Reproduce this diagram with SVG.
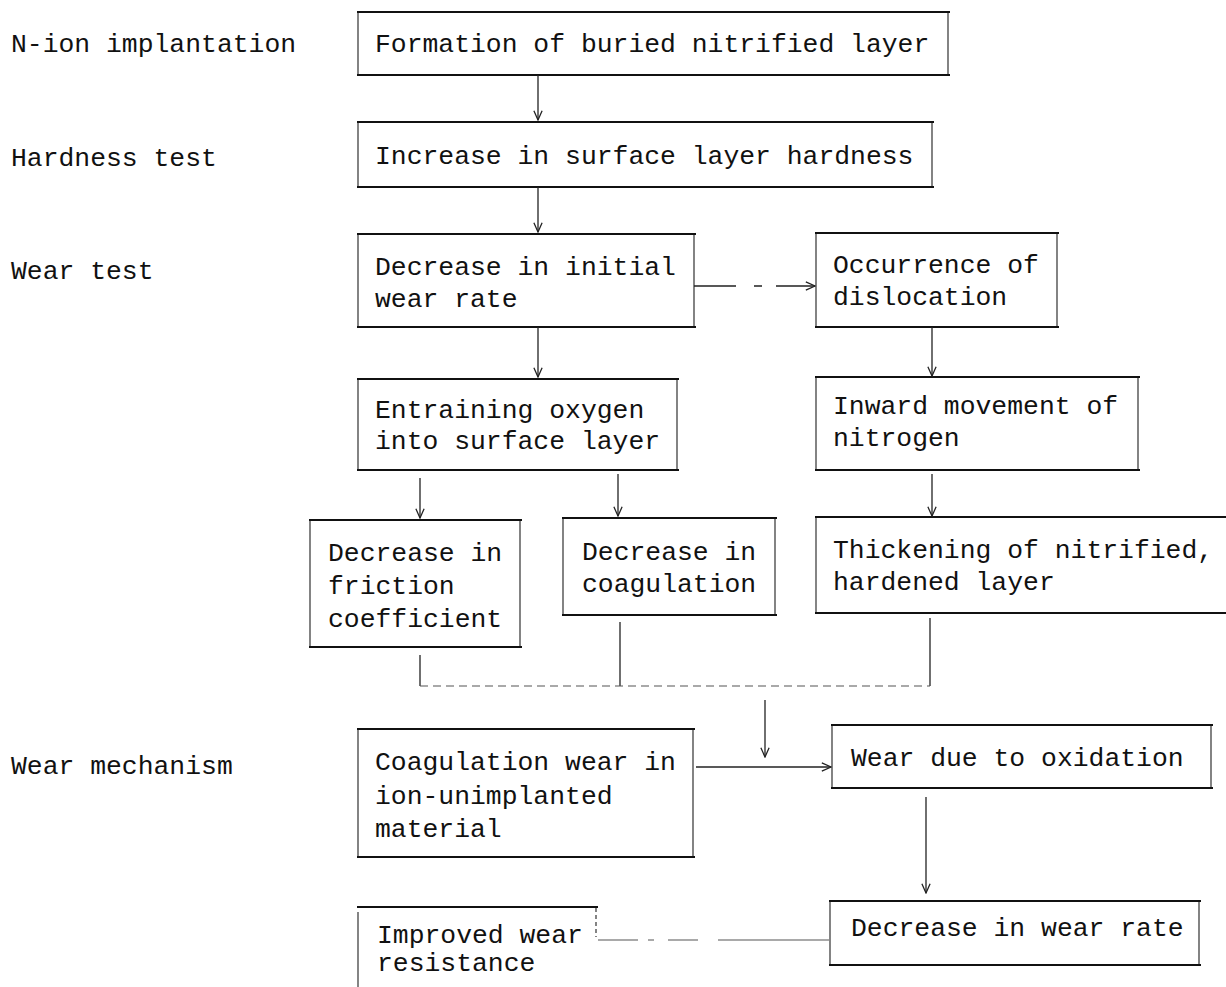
<svg xmlns="http://www.w3.org/2000/svg" width="1226" height="987" viewBox="0 0 1226 987">
<defs>
<style>
text{font-family:"Liberation Mono","DejaVu Sans Mono",monospace;font-size:26.4px;fill:#111;}
.side{stroke:#333;stroke-width:1.2;fill:none;}
.edge{stroke:#111;stroke-width:2.2;fill:none;}
.con{stroke:#222;stroke-width:1.3;fill:none;}
.faint{stroke:#555;stroke-width:1.1;fill:none;}
</style>
<marker id="ah" viewBox="0 0 12 12" refX="11" refY="6" markerWidth="11" markerHeight="11" markerUnits="userSpaceOnUse" orient="auto">
<path d="M1,1.5 L11,6 L1,10.5" fill="none" stroke="#222" stroke-width="1.4"/>
</marker>
</defs>
<rect width="1226" height="987" fill="#fff"/>

<g id="labels">
<text x="11" y="52">N-ion implantation</text>
<text x="11" y="166">Hardness test</text>
<text x="11" y="279">Wear test</text>
<text x="11" y="774">Wear mechanism</text>
</g>

<g id="n1">
<path class="side" d="M358,12 V75 M948,12 V75"/>
<path class="edge" d="M357,12 H950 M357,75 H950"/>
<text x="375" y="52">Formation of buried nitrified layer</text>
</g>
<g id="n2">
<path class="side" d="M358,122 V187 M932,122 V187"/>
<path class="edge" d="M357,122 H934 M357,187 H934"/>
<text x="375" y="164">Increase in surface layer hardness</text>
</g>
<g id="n3">
<path class="side" d="M358,234 V327 M694,234 V327"/>
<path class="edge" d="M357,234 H696 M357,327 H696"/>
<text x="375" y="275">Decrease in initial</text>
<text x="375" y="307">wear rate</text>
</g>
<g id="n4">
<path class="side" d="M816,233 V327 M1057,233 V327"/>
<path class="edge" d="M815,233 H1059 M815,327 H1059"/>
<text x="833" y="273">Occurrence of</text>
<text x="833" y="305">dislocation</text>
</g>
<g id="n5">
<path class="side" d="M358,379 V470 M677,379 V470"/>
<path class="edge" d="M357,379 H679 M357,470 H679"/>
<text x="375" y="418">Entraining oxygen</text>
<text x="375" y="449">into surface layer</text>
</g>
<g id="n6">
<path class="side" d="M816,377 V470 M1138,377 V470"/>
<path class="edge" d="M815,377 H1140 M815,470 H1140"/>
<text x="833" y="414">Inward movement of</text>
<text x="833" y="446">nitrogen</text>
</g>
<g id="n7">
<path class="side" d="M310,520 V646 M520,520 V646"/>
<path class="edge" d="M309,520 H522 M309,647 H522"/>
<text x="328" y="561">Decrease in</text>
<text x="328" y="594">friction</text>
<text x="328" y="627">coefficient</text>
</g>
<g id="n8">
<path class="side" d="M563,518 V615 M775,518 V615"/>
<path class="edge" d="M562,518 H777 M562,615 H777"/>
<text x="582" y="560">Decrease in</text>
<text x="582" y="592">coagulation</text>
</g>
<g id="n9">
<path class="side" d="M816,517 V613"/>
<path class="edge" d="M815,517 H1226 M815,613 H1226"/>
<text x="833" y="558">Thickening of nitrified,</text>
<text x="833" y="590">hardened layer</text>
</g>
<g id="n10">
<path class="side" d="M358,729 V857 M693,729 V857"/>
<path class="edge" d="M357,729 H695 M357,857 H695"/>
<text x="375" y="770">Coagulation wear in</text>
<text x="375" y="804">ion-unimplanted</text>
<text x="375" y="837">material</text>
</g>
<g id="n11">
<path class="side" d="M832,725 V788 M1211,725 V788"/>
<path class="edge" d="M831,725 H1213 M831,788 H1213"/>
<text x="851" y="766">Wear due to oxidation</text>
</g>
<g id="n12">
<path class="side" d="M830,901 V965 M1199,901 V965"/>
<path class="edge" d="M829,901 H1201 M829,965 H1201"/>
<text x="851" y="936">Decrease in wear rate</text>
</g>
<g id="n13">
<path class="side" d="M358,912 V987"/>
<path class="side" d="M596,908 V937" stroke-dasharray="4,3"/>
<path class="edge" d="M357,907 H598"/>
<text x="377" y="943">Improved wear</text>
<text x="377" y="971">resistance</text>
</g>

<g id="connectors">
<path class="con" d="M538,75 V120" marker-end="url(#ah)"/>
<path class="con" d="M538,187 V232" marker-end="url(#ah)"/>
<path class="con" d="M694,286 H815" stroke-dasharray="42,18,8,14,100" marker-end="url(#ah)"/>
<path class="con" d="M538,327 V377" marker-end="url(#ah)"/>
<path class="con" d="M932,327 V376" marker-end="url(#ah)"/>
<path class="con" d="M420,478 V518" marker-end="url(#ah)"/>
<path class="con" d="M618,474 V516" marker-end="url(#ah)"/>
<path class="con" d="M932,474 V516" marker-end="url(#ah)"/>
<path class="con" d="M420,655 V686"/>
<path class="con" d="M620,622 V686"/>
<path class="con" d="M930,618 V686"/>
<path class="faint" d="M420,686 H930" stroke-dasharray="8,5"/>
<path class="con" d="M765,700 V757" marker-end="url(#ah)"/>
<path class="con" d="M696,767 H831" marker-end="url(#ah)"/>
<path class="con" d="M926,797 V893" marker-end="url(#ah)"/>
<path class="faint" d="M598,940 H829" stroke-dasharray="40,10,6,14,30,20,200"/>
</g>
</svg>
